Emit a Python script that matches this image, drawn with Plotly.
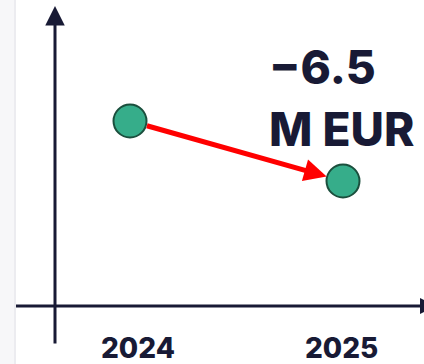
import plotly.graph_objects as go

years = [2024, 2025]
values = [12.0, 5.5]
change_lines = ["−6.5", "M EUR"]

W, H = 424, 364
NAVY = "#181a35"
GREEN = "#36ad8a"
GREEN_EDGE = "#1b4f3d"

fig = go.Figure()

fig.add_trace(go.Scatter(
    x=years, y=values, mode="markers",
    marker=dict(size=33, color=GREEN, line=dict(color=GREEN_EDGE, width=2)),
    hoverinfo="skip", showlegend=False,
))

# red change arrow between the two points
fig.add_annotation(
    x=years[1], y=values[1], ax=years[0], ay=values[0],
    xref="x", yref="y", axref="x", ayref="y",
    showarrow=True, arrowhead=2, arrowsize=0.9, arrowwidth=5,
    arrowcolor="#ff0000", standoff=17, startstandoff=16, text="",
)

# vertical axis arrow
fig.add_annotation(
    x=55 / W, y=1 - 6 / H, ax=55 / W, ay=1 - 345 / H,
    xref="x domain", yref="y domain", axref="x domain", ayref="y domain",
    showarrow=True, arrowhead=2, arrowsize=1.3, arrowwidth=3,
    arrowcolor=NAVY, text="",
)
# horizontal axis: line plus a head that runs off the right edge
fig.add_shape(type="line", xref="paper", yref="paper",
              x0=16 / W, x1=1, y0=1 - 306 / H, y1=1 - 306 / H,
              line=dict(color=NAVY, width=3))
fig.add_shape(type="path", xref="paper", yref="paper",
              path=f"M {420 / W} {1 - 298 / H} L {436 / W} {1 - 306 / H} "
                   f"L {420 / W} {1 - 314 / H} Z",
              fillcolor=NAVY, line=dict(width=0))

# year labels under the points
for yr, dx in zip(years, [8, -2]):
    fig.add_annotation(
        x=yr, y=1 - 348 / H, xref="x", yref="paper", yanchor="middle",
        xshift=dx, showarrow=False, text=str(yr),
        font=dict(family="Inter", size=28, color=NAVY, weight=800),
    )

# change label
for i, line in enumerate(change_lines):
    fig.add_annotation(
        x=267 / W, y=1 - (67 + 62 * i) / H, xref="paper", yref="paper",
        xanchor="left", yanchor="middle", showarrow=False,
        text=line,
        font=dict(family="Inter", size=46, color=NAVY, weight=800),
    )

# faint strip at the left edge
fig.add_shape(type="rect", xref="paper", yref="paper",
              x0=0, x1=14 / W, y0=0, y1=1,
              fillcolor="#f7f7f9", line=dict(width=0), layer="below")
fig.add_shape(type="line", xref="paper", yref="paper",
              x0=15 / W, x1=15 / W, y0=0, y1=1,
              line=dict(color="#ececf0", width=2), layer="below")

px_per_x = 213
px_per_y = 60 / 6.5
fig.update_layout(
    width=W, height=H,
    margin=dict(l=0, r=0, t=0, b=0),
    paper_bgcolor="white", plot_bgcolor="white",
    xaxis=dict(range=[2024 - 130 / px_per_x, 2024 + (W - 130) / px_per_x],
               visible=False, fixedrange=True),
    yaxis=dict(range=[values[0] - (H - 121) / px_per_y, values[0] + 121 / px_per_y],
               visible=False, fixedrange=True),
)

fig.write_html("out.html", config={"displayModeBar": False},
               post_script="document.body.style.margin='0';"
                           "document.body.style.overflow='hidden';")
